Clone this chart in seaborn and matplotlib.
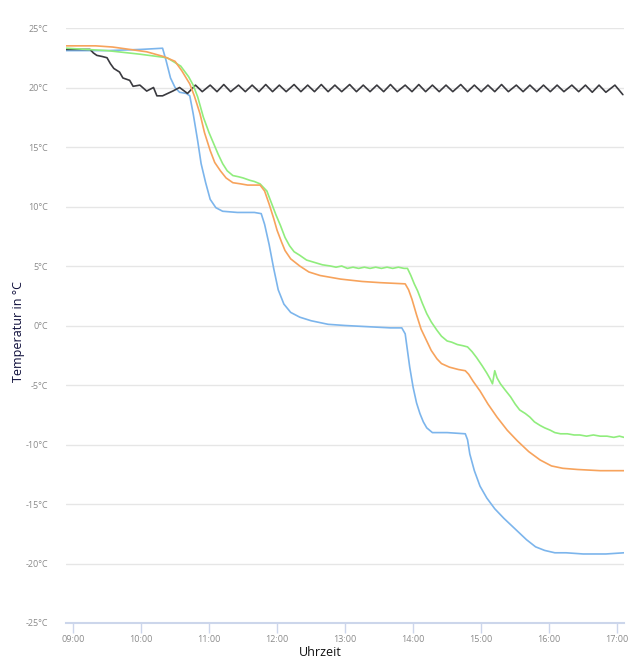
import pandas as pd
import matplotlib.pyplot as plt
import seaborn as sns

# readings, time as HH:MM
blue_times = ["08:54", "09:30", "10:00", "10:19", "10:22", "10:26", "10:30", "10:34", "10:40", "10:43",
              "10:46", "10:50", "10:53", "10:57", "11:01", "11:06", "11:12", "11:25", "11:40", "11:46",
              "11:49", "11:53", "11:57", "12:01", "12:06", "12:12", "12:20", "12:30", "12:45", "13:00",
              "13:20", "13:40", "13:50", "13:53", "13:57", "14:00", "14:03", "14:06", "14:09", "14:12",
              "14:17", "14:30", "14:46", "14:48", "14:50", "14:54", "14:59", "15:05", "15:12", "15:20",
              "15:30", "15:40", "15:48", "15:56", "16:05", "16:15", "16:30", "16:50", "17:06"]
blue_temps = [23.1, 23.1, 23.2, 23.3, 22.3, 20.8, 20.0, 19.6, 19.5, 19.3,
              17.8, 15.5, 13.6, 12.0, 10.6, 9.9, 9.6, 9.5, 9.5, 9.4,
              8.5, 6.8, 4.8, 3.0, 1.8, 1.1, 0.7, 0.4, 0.1, 0.0,
              -0.1, -0.2, -0.2, -0.7, -3.5, -5.2, -6.5, -7.4, -8.1, -8.6,
              -9.0, -9.0, -9.1, -9.6, -10.8, -12.2, -13.5, -14.5, -15.4, -16.2,
              -17.1, -18.0, -18.6, -18.9, -19.1, -19.1, -19.2, -19.2, -19.1]

black_times = ["08:54", "09:15", "09:18", "09:21", "09:26", "09:30", "09:33", "09:36", "09:41", "09:44",
               "09:50", "09:53", "09:59", "10:05", "10:11", "10:14", "10:19", "10:28", "10:34", "10:41",
               "10:48", "10:54", "11:01", "11:07", "11:13", "11:19", "11:26", "11:32", "11:38", "11:44",
               "11:50", "11:56", "12:02", "12:08", "12:15", "12:21", "12:27", "12:33", "12:39", "12:45",
               "12:51", "12:57", "13:04", "13:10", "13:16", "13:22", "13:28", "13:34", "13:40", "13:46",
               "13:53", "13:59", "14:05", "14:11", "14:17", "14:23", "14:29", "14:35", "14:42", "14:48",
               "14:54", "15:00", "15:06", "15:12", "15:18", "15:24", "15:31", "15:37", "15:43", "15:49",
               "15:55", "16:01", "16:07", "16:13", "16:20", "16:26", "16:32", "16:38", "16:44", "16:50",
               "16:58", "17:05"]
black_temps = [23.2, 23.2, 22.9, 22.7, 22.6, 22.5, 22.0, 21.6, 21.3, 20.8,
               20.6, 20.1, 20.2, 19.7, 20.0, 19.3, 19.3, 19.7, 20.0, 19.5,
               20.2, 19.65, 20.2, 19.65, 20.25, 19.65, 20.2, 19.65, 20.2, 19.65,
               20.25, 19.65, 20.2, 19.65, 20.25, 19.65, 20.2, 19.65, 20.25, 19.65,
               20.2, 19.65, 20.25, 19.65, 20.2, 19.65, 20.2, 19.65, 20.25, 19.65,
               20.2, 19.65, 20.25, 19.65, 20.2, 19.65, 20.2, 19.65, 20.25, 19.65,
               20.2, 19.65, 20.2, 19.65, 20.25, 19.65, 20.2, 19.65, 20.2, 19.65,
               20.2, 19.65, 20.2, 19.65, 20.2, 19.65, 20.2, 19.6, 20.2, 19.6,
               20.2, 19.4]

green_times = ["08:54", "09:30", "09:59", "10:23", "10:35", "10:42", "10:46", "10:50", "10:55", "11:00",
               "11:04", "11:08", "11:12", "11:16", "11:21", "11:26", "11:30", "11:36", "11:40", "11:45",
               "11:51", "11:55", "11:59", "12:03", "12:07", "12:11", "12:15", "12:20", "12:26", "12:33",
               "12:40", "12:47", "12:52", "12:57", "13:02", "13:07", "13:12", "13:17", "13:22", "13:27",
               "13:32", "13:37", "13:42", "13:47", "13:52", "13:55", "13:58", "14:01", "14:04", "14:08",
               "14:12", "14:16", "14:21", "14:25", "14:30", "14:34", "14:39", "14:44", "14:48", "14:52",
               "14:56", "15:01", "15:05", "15:08", "15:10", "15:12", "15:14", "15:17", "15:21", "15:26",
               "15:30", "15:34", "15:39", "15:43", "15:47", "15:52", "15:56", "16:01", "16:05", "16:10",
               "16:16", "16:22", "16:27", "16:33", "16:39", "16:45", "16:51", "16:57", "17:02", "17:06"]
green_temps = [23.3, 23.1, 22.8, 22.5, 21.8, 20.9, 20.2, 19.2, 17.5, 16.2,
               15.3, 14.4, 13.6, 13.0, 12.6, 12.5, 12.4, 12.2, 12.1, 11.9,
               11.3, 10.3, 9.3, 8.4, 7.4, 6.7, 6.2, 5.9, 5.5, 5.3,
               5.1, 5.0, 4.9, 5.0, 4.8, 4.9, 4.8, 4.9, 4.8, 4.9,
               4.8, 4.9, 4.8, 4.9, 4.8, 4.8, 4.2, 3.5, 2.9, 1.9,
               1.0, 0.3, -0.4, -0.9, -1.3, -1.4, -1.6, -1.7, -1.8, -2.2,
               -2.7, -3.4, -4.0, -4.5, -4.9, -3.8, -4.4, -4.9, -5.4, -6.0,
               -6.6, -7.1, -7.4, -7.7, -8.1, -8.4, -8.6, -8.8, -9.0, -9.1,
               -9.1, -9.2, -9.2, -9.3, -9.2, -9.3, -9.3, -9.4, -9.3, -9.4]

orange_times = ["08:54", "09:20", "09:35", "09:50", "10:05", "10:20", "10:30", "10:36", "10:43", "10:47",
                "10:52", "10:56", "11:01", "11:05", "11:10", "11:15", "11:21", "11:28", "11:34", "11:45",
                "11:49", "11:53", "11:57", "12:00", "12:04", "12:07", "12:12", "12:20", "12:28", "12:38",
                "12:56", "13:15", "13:31", "13:53", "13:56", "13:59", "14:03", "14:07", "14:12", "14:16",
                "14:21", "14:25", "14:32", "14:40", "14:46", "14:49", "14:53", "14:59", "15:06", "15:14",
                "15:23", "15:32", "15:42", "15:52", "16:02", "16:12", "16:25", "16:45", "17:06"]
orange_temps = [23.5, 23.5, 23.4, 23.2, 23.0, 22.6, 22.2, 21.4, 20.3, 19.3,
                17.8, 16.2, 14.7, 13.7, 13.0, 12.4, 12.0, 11.9, 11.8, 11.8,
                11.3, 10.2, 9.0, 8.0, 7.0, 6.3, 5.6, 5.0, 4.5, 4.2,
                3.9, 3.7, 3.6, 3.5, 3.0, 2.2, 0.9, -0.3, -1.3, -2.1,
                -2.8, -3.2, -3.5, -3.7, -3.8, -4.1, -4.7, -5.5, -6.6, -7.7,
                -8.8, -9.7, -10.6, -11.3, -11.8, -12.0, -12.1, -12.2, -12.2]

y_ticks = [-25, -20, -15, -10, -5, 0, 5, 10, 15, 20, 25]
x_ticks = [9, 10, 11, 12, 13, 14, 15, 16, 17]


def hours(times):
    return [int(t[:2]) + int(t[3:]) / 60 for t in times]


frames = []
for name, times, temps in [("Sensor 1", blue_times, blue_temps),
                           ("Sensor 2", black_times, black_temps),
                           ("Sensor 3", green_times, green_temps),
                           ("Sensor 4", orange_times, orange_temps)]:
    frames.append(pd.DataFrame({"zeit": hours(times), "temp": temps, "sensor": name}))
df = pd.concat(frames, ignore_index=True)

sns.set_style("white")
plt.rcParams["font.family"] = ["Open Sans", "DejaVu Sans"]

fig = plt.figure(figsize=(6.35, 6.67), dpi=100)
ax = fig.add_axes([66 / 635, 1 - 623 / 667, (624 - 66) / 635, (623 - 28) / 667])

pal = {"Sensor 1": "#7cb5ec", "Sensor 2": "#3a3a3f", "Sensor 3": "#90ed7d", "Sensor 4": "#f7a35c"}
sns.lineplot(data=df, x="zeit", y="temp", hue="sensor", palette=pal, sort=False,
             estimator=None, linewidth=1.2, legend=False, ax=ax)
for line in ax.lines:
    line.set_solid_joinstyle("round")

ax.set_xlim(8.897, 17.10)
ax.set_ylim(-25, 25)
ax.set_yticks(y_ticks)
ax.set_yticklabels([f"{v}°C" for v in y_ticks])
ax.set_xticks(x_ticks)
ax.set_xticklabels([f"{h:02d}:00" for h in x_ticks])

ax.grid(axis="y", color="#e6e6e6", linewidth=1)
ax.grid(axis="x", visible=False)
for s in ("left", "top", "right"):
    ax.spines[s].set_visible(False)
ax.spines["bottom"].set_color("#ccd6eb")
ax.spines["bottom"].set_linewidth(1.5)
ax.tick_params(axis="x", length=7, width=1, color="#ccd6eb", labelcolor="#8a8a8a",
               labelsize=6.5, pad=2, bottom=True)
ax.tick_params(axis="y", length=0, labelcolor="#8a8a8a", labelsize=6.5, pad=13)

ax.set_xlabel("Uhrzeit", fontsize=9, color="#111111")
ax.xaxis.label.set_va("center")
ax.xaxis.set_label_coords(0.455, -0.049)
ax.set_ylabel("Temperatur in °C", fontsize=9, color="#0d0d3a")
ax.yaxis.label.set_va("center")
ax.yaxis.set_label_coords(-0.086, 0.49)

fig.savefig("out.png", dpi=100)
